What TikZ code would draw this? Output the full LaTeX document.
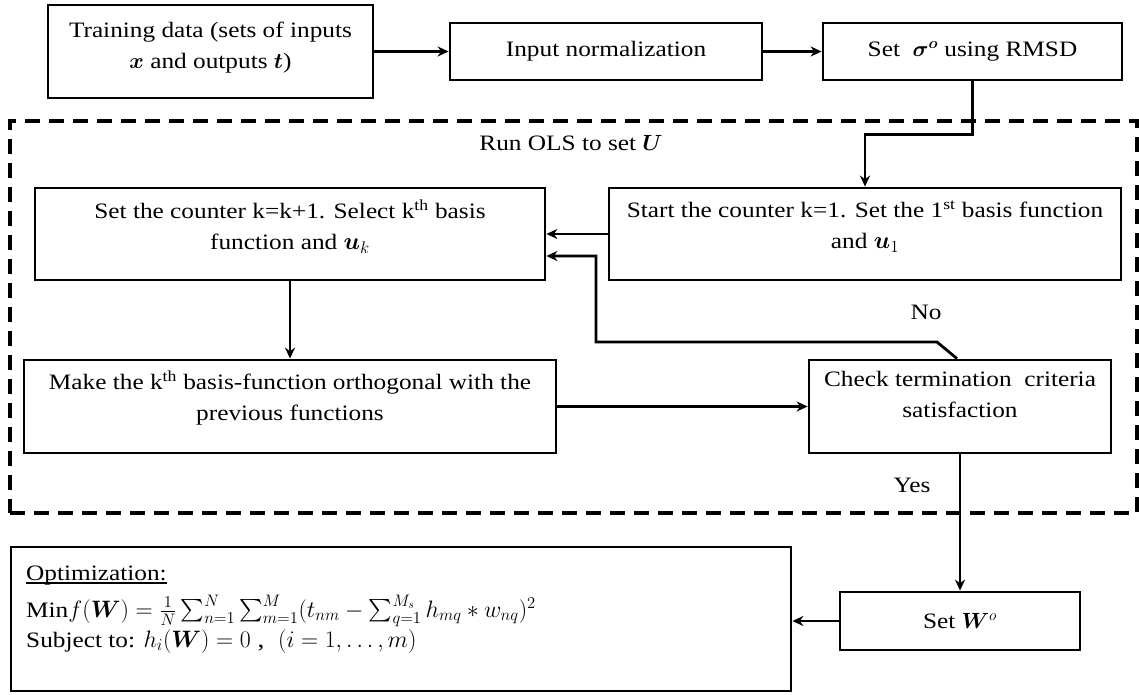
\documentclass[tikz,border=0pt]{standalone}
\usepackage{fix-cm}
\usepackage{amsmath,bm}
\usepackage{graphicx}
\usepackage{fontspec}
\setmainfont{Liberation Serif}[FakeStretch=1.15]
\usetikzlibrary{arrows.meta,calc}
\newcommand{\fs}{\fontsize{22}{31}\selectfont}
\newcommand{\myul}[1]{\setbox0\hbox{#1}\rlap{\rule[-3.5pt]{\wd0}{1.2pt}}\box0}
\begin{document}
\begin{tikzpicture}[x=1pt,y=-1pt,
  box/.style={draw, line width=2.8pt, inner sep=0pt, align=center, font=\fs},
  arr/.style={line width=2.8pt, -{Stealth[length=11pt,width=10pt]}},
  lbl/.style={font=\fs, inner sep=0pt},
  optline/.style={font=\fs, inner sep=0pt, anchor=base west},
  frame/.style={draw, line width=4pt, dash pattern=on 15pt off 9pt, inner sep=0pt}]
\useasboundingbox (0,0) rectangle (1139,694);

\node[frame, minimum width=1127pt, minimum height=392pt] (ols) at (573.5,317) {};

\node[box, minimum width=325pt, minimum height=93pt, text depth=13pt] (train) at (210.5,51.5)
  {Training data (sets of inputs\\ $\bm{x}$ and outputs $\bm{t}$)};
\node[box, minimum width=312pt, minimum height=57pt] (norm) at (606,51.5) {Input normalization};
\node[box, minimum width=299pt, minimum height=57pt] (sigma) at (972.5,51.5) {Set \ $\bm{\sigma}^{\bm{o}}$ using RMSD};

\node[lbl] (olslbl) at (571,143) {Run OLS to set $\bm{U}$};

\node[box, minimum width=510pt, minimum height=92pt, text depth=18pt] (next) at (290,234)
  {Set the counter k=k+1. Select k\textsuperscript{th} basis\\ function and \scalebox{1.1}{$\bm{u}_k$}};
\node[box, minimum width=512pt, minimum height=92pt, text depth=18pt] (start) at (865,234)
  {Start the counter k=1. Set the 1\textsuperscript{st} basis function\\ and \scalebox{1.1}{$\bm{u}_1$}};
\node[box, minimum width=532pt, minimum height=93pt, text depth=22pt] (orth) at (290,406.5)
  {Make the k\textsuperscript{th} basis-function orthogonal with the\\ previous functions};
\node[box, minimum width=302pt, minimum height=93pt, text depth=25pt] (check) at (960,406.5)
  {Check termination \ criteria\\ satisfaction};

\node[lbl] (no) at (926,312) {No};
\node[lbl] (yes) at (912,485) {Yes};

\node[box, minimum width=240pt, minimum height=58pt] (setw) at (960,621) {Set $\bm{W}^{o}$};
\node[box, minimum width=780pt, minimum height=144pt] (opt) at (401,619) {};
\node[optline] (optA) at (26,580) {\myul{Optimization:}};
\node[optline] (optB) at (26,617) {Min\scalebox{1.08}{$f(\bm{W})=\frac{1}{N}\sum_{n=1}^{N}\sum_{m=1}^{M}(t_{nm}-\sum_{q=1}^{M_s}h_{mq}*w_{nq})^2$}};
\node[optline] (optC) at (26,647) {Subject to: \scalebox{1.08}{$h_i(\bm{W})=0$ , \ $(i=1,\ldots,m)$}};

\draw[arr] (train.east) -- (train.east -| norm.west);
\draw[arr] (norm.east) -- (sigma.west);
\draw[arr] (sigma.south) -- ++(0,53) -| (start.north);
\draw[arr] (start.west) -- (start.west -| next.east);
\draw[arr] (next.south) -- (orth.north);
\draw[arr] (orth.east) -- (orth.east -| check.west);
\coordinate (n1) at (937,342);
\coordinate (n2) at (596,342);
\draw[arr] ([xshift=-3pt]check.north) -- (n1) -- (n2) |- ([yshift=-22pt]next.east);
\draw[arr] (check.south) -- (setw.north);
\draw[arr] (setw.west) -- (setw.west -| opt.east);
\end{tikzpicture}
\end{document}
